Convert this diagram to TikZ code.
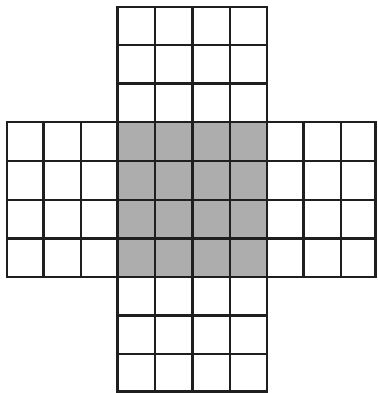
\documentclass[tikz,border=0pt]{standalone}
\begin{document}
\begin{tikzpicture}[x=1pt,y=-1pt,
  gridline/.style={line width=2.6pt,line cap=rect,black!88},
  shaded/.style={fill=black!32}]
\useasboundingbox (0,0) rectangle (377,393);
\fill[white] (0,0) rectangle (377,393);
% centre shaded square
\fill[shaded] (117.5,122) rectangle (267,277);
% top arm: 4 columns x 3 rows
\foreach \x in {117.5,155,192.5,230,267} \draw[gridline] (\x,7) -- (\x,122);
\foreach \y in {7,45,83.5,122} \draw[gridline] (117.5,\y) -- (267,\y);
% centre: 4 x 4
\foreach \x in {117.5,155,192.5,230,267} \draw[gridline] (\x,122) -- (\x,277);
\foreach \y in {122,161,200,238.5,277} \draw[gridline] (117.5,\y) -- (267,\y);
% left arm: 3 columns x 4 rows
\foreach \x in {7,43.5,81,117.5} \draw[gridline] (\x,122) -- (\x,277);
\foreach \y in {122,161,200,238.5,277} \draw[gridline] (7,\y) -- (117.5,\y);
% right arm: 3 columns x 4 rows
\foreach \x in {267,303.5,341,375.5} \draw[gridline] (\x,122) -- (\x,277);
\foreach \y in {122,161,200,238.5,277} \draw[gridline] (267,\y) -- (375.5,\y);
% bottom arm: 4 columns x 3 rows
\foreach \x in {117.5,155,192.5,230,267} \draw[gridline] (\x,277) -- (\x,391.5);
\foreach \y in {277,315.5,354,391.5} \draw[gridline] (117.5,\y) -- (267,\y);
\end{tikzpicture}
\end{document}
